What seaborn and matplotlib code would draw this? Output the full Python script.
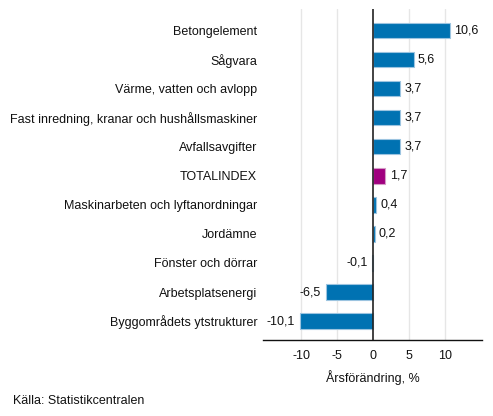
import numpy as np
import pandas as pd
import seaborn as sns
import matplotlib.pyplot as plt

# data
categories = ['Betongelement', 'Sågvara', 'Värme, vatten och avlopp',
              'Fast inredning, kranar och hushållsmaskiner', 'Avfallsavgifter',
              'TOTALINDEX', 'Maskinarbeten och lyftanordningar', 'Jordämne',
              'Fönster och dörrar', 'Arbetsplatsenergi', 'Byggområdets ytstrukturer']
values = [10.6, 5.6, 3.7, 3.7, 3.7, 1.7, 0.4, 0.2, -0.1, -6.5, -10.1]
xticks = [-10, -5, 0, 5, 10]

df = pd.DataFrame({'category': categories, 'value': values})
blue = '#0072B2'
magenta = '#A0007F'
palette = [magenta if c == 'TOTALINDEX' else blue for c in categories]

sns.set_theme(style='white')
plt.rcParams['font.family'] = ['Liberation Sans', 'DejaVu Sans']
fs = 9
txt = '#111111'

fig = plt.figure(figsize=(4.93, 4.16), dpi=100)
ax = fig.add_axes([0.533, 0.183, 0.445, 0.795])

sns.barplot(data=df, x='value', y='category', hue='category', palette=palette,
            legend=False, width=0.52, ax=ax, linewidth=0.8, edgecolor='#9cc4e0',
            saturation=1)
for p, c in zip(ax.patches, palette):
    if c == magenta:
        p.set_edgecolor('#d49cc6')

ax.set_xlim(-15.3, 15.1)
ax.set_ylim(len(categories) - 0.35, -0.75)
ax.set_xticks(xticks)
ax.set_xticklabels([str(t) for t in xticks], fontsize=fs, color=txt)
ax.tick_params(axis='y', labelsize=fs, length=0, pad=4, labelcolor=txt)
ax.tick_params(axis='x', length=0, pad=7)
ax.set_ylabel('')
ax.set_xlabel('Årsförändring, %', fontsize=fs, color=txt, labelpad=6)

for t in xticks:
    if t != 0:
        ax.axvline(t, color='#e6e6e6', linewidth=1, zorder=0)
ax.axvline(0, color='#222222', linewidth=1.2, zorder=3)

for s in ['top', 'right', 'left']:
    ax.spines[s].set_visible(False)
ax.spines['bottom'].set_color('#111111')
ax.spines['bottom'].set_linewidth(1)

for i, v in enumerate(values):
    label = f'{v:.1f}'.replace('.', ',')
    if v >= 0:
        ax.text(v + 0.6, i, label, va='center', ha='left', fontsize=fs, color=txt)
    else:
        ax.text(v - 0.7, i, label, va='center', ha='right', fontsize=fs, color=txt)

fig.text(0.026, 0.03, 'Källa: Statistikcentralen', fontsize=fs, color=txt)

fig.savefig('out.png', dpi=100)
